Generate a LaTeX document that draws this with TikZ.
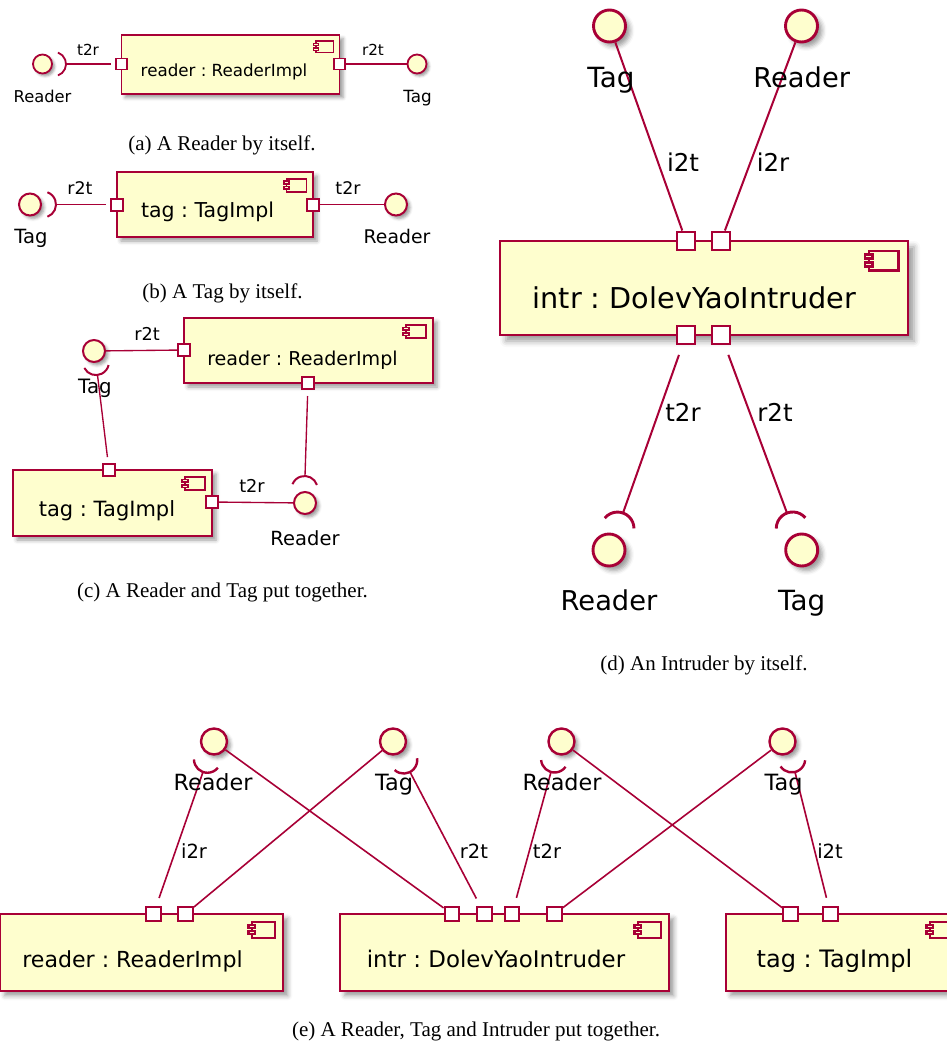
\documentclass[tikz,border=0pt]{standalone}
\usepackage{fontspec}
\newfontfamily\dvs{DejaVu Sans}
\newfontfamily\capf{Liberation Serif}
\usetikzlibrary{calc,shadows.blur}
\definecolor{crim}{HTML}{A80036}
\definecolor{cfill}{HTML}{FEFECE}
\frenchspacing
\tikzset{
  cbox/.style 2 args={rectangle, draw=crim, fill=cfill, line width=#1, inner sep=0pt,
     blur shadow={shadow xshift=#2, shadow yshift=-#2, shadow blur radius=#2, shadow opacity=40}},
  iface/.style n args={3}{circle, draw=crim, fill=cfill, line width=#1, minimum size=#2, inner sep=0pt,
     blur shadow={shadow xshift=#3, shadow yshift=-#3, shadow blur radius=#3, shadow opacity=40}},
  port/.style 2 args={rectangle, draw=crim, fill=white, line width=#1, minimum size=#2, inner sep=0pt},
  conn/.style={draw=crim, line width=#1},
  capt/.style={anchor=base, inner sep=0pt, font={\capf\fontsize{21}{21}\selectfont}}
}
% text label: name, x, baseline y, size, text
\newcommand\tlab[5]{\node[anchor=base, inner sep=0pt, font={\dvs\frenchspacing\fontsize{#4}{#4}\selectfont}] (#1) at (#2,#3) {#5};}
% component icon: right x, top y, scale, line width
\newcommand\cicon[4]{%
  \draw[crim, fill=cfill, line width=#4] ({#1-20*#3},{#2+5*#3}) rectangle ({#1-5*#3},{#2+15*#3});
  \draw[crim, fill=cfill, line width=#4] ({#1-22*#3},{#2+7*#3}) rectangle ({#1-18*#3},{#2+9*#3});
  \draw[crim, fill=cfill, line width=#4] ({#1-22*#3},{#2+11*#3}) rectangle ({#1-18*#3},{#2+13*#3});
}
% socket: port node, end coordinate, radius, line lw, arc lw, gap at port
\newcommand\sockt[6]{%
  \draw[conn=#4, shorten <=#6] (#1) -- (#2);
  \draw[crim, line width=#5] let \p1=($(#1)-(#2)$), \n1={atan2(\y1,\x1)} in
     ($(#2)!-#3!(#1)$) ++({\n1-70}:#3) arc[start angle={\n1-70}, end angle={\n1+70}, radius=#3];
}
\begin{document}
\begin{tikzpicture}[x=1pt,y=-1pt]
\useasboundingbox (0,0) rectangle (947,1047);

% ================= (a) =================
\node[cbox={1.8pt}{3.5pt}, minimum width=218, minimum height=59] (ra) at (230.5,64.5) {};
\cicon{339.5}{35}{1.18}{1.5pt}
\tlab{ratxt}{224}{76.7}{16.7}{reader : ReaderImpl}
\node[port={1.8pt}{11}] (ral) at (121.5,64) {};
\node[port={1.8pt}{11}] (rar) at (339.5,64) {};
\node[iface={1.8pt}{19}{2.5pt}] (aR) at (42.5,64) {};
\node[iface={1.8pt}{19}{2.5pt}] (aT) at (417,64) {};
\coordinate (aRe) at (66,64);
\sockt{ral}{aRe}{12.2pt}{1.2pt}{1.8pt}{4pt}
\draw[conn=1.2pt] (rar) -- (aT);
\tlab{aRl}{42.5}{102}{16.3}{Reader}
\tlab{aTl}{417.5}{102}{16.8}{Tag}
\tlab{a1}{88}{55}{15.2}{t2r}
\tlab{a2}{373}{55}{15.2}{r2t}
\node[capt] (capa) at (222,150) {(a) A Reader by itself.};

% ================= (b) =================
\node[cbox={2pt}{4pt}, minimum width=196, minimum height=65] (tb) at (215,204.5) {};
\cicon{313}{172}{1.33}{1.7pt}
\tlab{tbtxt}{207.5}{217.7}{20.5}{tag : TagImpl}
\node[port={2pt}{12}] (tbl) at (117,204.5) {};
\node[port={2pt}{12}] (tbr) at (313,204.5) {};
\node[iface={2pt}{22}{3pt}] (bT) at (30,204.5) {};
\node[iface={2pt}{22}{3pt}] (bR) at (396,204.5) {};
\coordinate (bTe) at (56,204.5);
\sockt{tbl}{bTe}{13pt}{1.35pt}{2pt}{4.5pt}
\draw[conn=1.35pt] (tbr) -- (bR);
\tlab{b1}{80}{194}{17.4}{r2t}
\tlab{b2}{348}{194}{17.4}{t2r}
\tlab{bTl}{31}{243}{19.6}{Tag}
\tlab{bRl}{397}{243}{18.8}{Reader}
\node[capt] (capb) at (222.5,298) {(b) A Tag by itself.};

% ================= (c) =================
\node[cbox={2pt}{4pt}, minimum width=249, minimum height=65] (rc) at (308.5,350.5) {};
\cicon{433}{318}{1.35}{1.7pt}
\tlab{rctxt}{302.5}{365}{19.1}{reader : ReaderImpl}
\node[port={2pt}{12}] (rcl) at (184,350) {};
\node[port={2pt}{12}] (rcb) at (308,383) {};
\node[cbox={2pt}{4pt}, minimum width=199, minimum height=66] (tc) at (112.5,503) {};
\cicon{212}{470}{1.35}{1.7pt}
\tlab{tctxt}{107}{516.7}{21}{tag : TagImpl}
\node[port={2pt}{12}] (tct) at (109,470) {};
\node[port={2pt}{12}] (tcr) at (212,502) {};
\node[iface={2pt}{22}{3pt}] (cT) at (94,351) {};
\node[iface={2pt}{22}{3pt}] (cR) at (305,503) {};
\coordinate (cTe) at (97.5,375);
\coordinate (cRe) at (305,476);
\sockt{tct}{cTe}{13pt}{1.35pt}{2pt}{6pt}
\sockt{rcb}{cRe}{13pt}{1.35pt}{2pt}{6pt}
\draw[conn=1.35pt] (cT) -- (rcl);
\draw[conn=1.35pt] (cR) -- (tcr);
\tlab{c1}{147}{340.7}{17.7}{r2t}
\tlab{c2}{252}{492.7}{17.7}{t2r}
\tlab{cTl}{95}{393}{19.8}{Tag}
\tlab{cRl}{305}{545}{19.5}{Reader}
\node[capt] (capc) at (222.5,597) {(c) A Reader and Tag put together.};

% ================= (d) =================
\node[cbox={2.9pt}{6pt}, minimum width=408, minimum height=94] (id) at (704,288) {};
\cicon{908}{241}{1.96}{2.6pt}
\tlab{idtxt}{694.5}{308.3}{28.7}{intr : DolevYaoIntruder}
\node[port={2.9pt}{18}] (dp1) at (686,241) {};
\node[port={2.9pt}{18}] (dp2) at (721,241) {};
\node[port={2.9pt}{18}] (dp3) at (686,335) {};
\node[port={2.9pt}{18}] (dp4) at (721,335) {};
\node[iface={2.9pt}{32}{4.5pt}] (dT) at (609.5,26) {};
\node[iface={2.9pt}{32}{4.5pt}] (dR) at (801.5,26) {};
\node[iface={2.9pt}{32}{4.5pt}] (dbR) at (609,550) {};
\node[iface={2.9pt}{32}{4.5pt}] (dbT) at (801.7,550) {};
\draw[conn=2pt] (dT) -- (dp1);
\draw[conn=2pt] (dR) -- (dp2);
\coordinate (dRe) at (623,513);
\coordinate (dTe) at (787,513);
\sockt{dp3}{dRe}{16.5pt}{2pt}{2.9pt}{10pt}
\sockt{dp4}{dTe}{16.5pt}{2pt}{2.9pt}{10pt}
\tlab{dTl}{611}{87.3}{27.8}{Tag}
\tlab{dRl}{801.7}{87.3}{27.3}{Reader}
\tlab{d1}{683}{171.7}{24.5}{i2t}
\tlab{d2}{773}{171.7}{24.5}{i2r}
\tlab{d3}{683}{421.7}{24.5}{t2r}
\tlab{d4}{775}{421.7}{24.5}{r2t}
\tlab{dbRl}{609}{610.7}{27.3}{Reader}
\tlab{dbTl}{801.7}{610.7}{27.8}{Tag}
\node[capt] (capd) at (704,670) {(d) An Intruder by itself.};

% ================= (e) =================
\node[cbox={2.4pt}{4.7pt}, minimum width=283, minimum height=77] (re) at (141.5,952.5) {};
\node[cbox={2.4pt}{4.7pt}, minimum width=329, minimum height=77] (ie) at (504.5,952.5) {};
\node[cbox={2.4pt}{4.7pt}, minimum width=235, minimum height=77] (te) at (843.5,952.5) {};
\cicon{283}{914}{1.57}{2.1pt}
\cicon{669}{914}{1.57}{2.1pt}
\cicon{961}{914}{1.57}{2.1pt}
\tlab{retxt}{132.5}{967}{22.1}{reader : ReaderImpl}
\tlab{ietxt}{496}{967}{22.9}{intr : DolevYaoIntruder}
\tlab{tetxt}{834.5}{967}{24}{tag : TagImpl}
\node[port={2.4pt}{14.5}] (erA) at (153.5,914) {};
\node[port={2.4pt}{14.5}] (erB) at (185.5,914) {};
\node[port={2.4pt}{14.5}] (ei1) at (452,914) {};
\node[port={2.4pt}{14.5}] (ei2) at (484.5,914) {};
\node[port={2.4pt}{14.5}] (ei3) at (512,914) {};
\node[port={2.4pt}{14.5}] (ei4) at (554.5,914) {};
\node[port={2.4pt}{14.5}] (et1) at (790.5,914) {};
\node[port={2.4pt}{14.5}] (et2) at (830.5,914) {};
\node[iface={2.4pt}{26}{3.5pt}] (eR1) at (214,741.5) {};
\node[iface={2.4pt}{26}{3.5pt}] (eT1) at (393,741.5) {};
\node[iface={2.4pt}{26}{3.5pt}] (eR2) at (561.5,741.5) {};
\node[iface={2.4pt}{26}{3.5pt}] (eT2) at (782.5,741.5) {};
\coordinate (eR1e) at (203,772);
\coordinate (eT1e) at (410,772);
\coordinate (eR2e) at (551,772);
\coordinate (eT2e) at (795,772);
\sockt{erA}{eR1e}{13.5pt}{1.6pt}{2.4pt}{8pt}
\sockt{ei2}{eT1e}{13.5pt}{1.6pt}{2.4pt}{8pt}
\sockt{ei3}{eR2e}{13.5pt}{1.6pt}{2.4pt}{8pt}
\sockt{et2}{eT2e}{13.5pt}{1.6pt}{2.4pt}{8pt}
\draw[conn=1.6pt] (eR1) -- (ei1);
\draw[conn=1.6pt] (eT1) -- (erB);
\draw[conn=1.6pt] (eR2) -- (et1);
\draw[conn=1.6pt] (eT2) -- (ei4);
\tlab{eR1l}{213}{790}{22.3}{Reader}
\tlab{eT1l}{394}{790}{22.4}{Tag}
\tlab{eR2l}{562}{790}{22.3}{Reader}
\tlab{eT2l}{783.5}{790}{22.4}{Tag}
\tlab{e1}{194}{858.3}{19.5}{i2r}
\tlab{e2}{474}{858.3}{19.5}{r2t}
\tlab{e3}{547}{858.3}{19.5}{t2r}
\tlab{e4}{830}{858.3}{19.5}{i2t}
\node[capt] (cape) at (476,1036) {(e) A Reader, Tag and Intruder put together.};
\end{tikzpicture}
\end{document}
